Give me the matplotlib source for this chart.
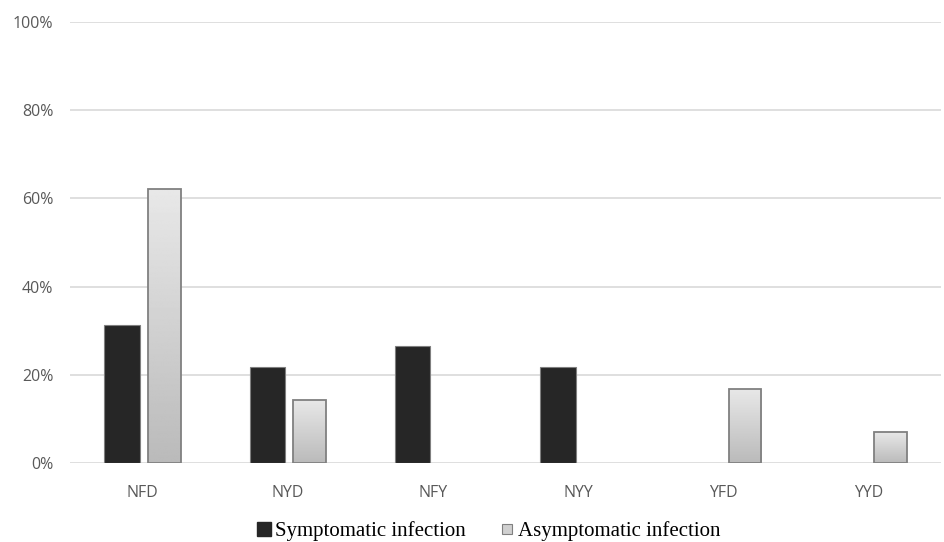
import numpy as np
import matplotlib.pyplot as plt
from matplotlib.lines import Line2D

categories = ['NFD', 'NYD', 'NFY', 'NYY', 'YFD', 'YYD']
symptomatic = [31.3, 21.8, 26.5, 21.8, 0, 0]
asymptomatic = [62.1, 14.3, 0, 0, 16.8, 7.0]
yticks = [0, 20, 40, 60, 80, 100]

fig = plt.figure(figsize=(9.44, 5.42), dpi=100)
ax = fig.add_axes([70 / 944, 1 - 463 / 542, 871 / 944, 441 / 542])

x = np.arange(len(categories))
w = 0.245
off = 0.15

for sp in ax.spines.values():
    sp.set_visible(False)
ax.set_yticks(yticks)
ax.set_yticklabels([f'{t}%' for t in yticks])
ax.yaxis.grid(True, color='#d9d9d9', linewidth=1.2)
ax.set_axisbelow(True)
ax.tick_params(axis='both', length=0, labelsize=11.5, labelcolor='#595959')
ax.tick_params(axis='y', pad=12)
ax.tick_params(axis='x', pad=16)
ax.set_xticks(x)
ax.set_xticklabels(categories)
for lab in ax.get_xticklabels() + ax.get_yticklabels():
    lab.set_family('Open Sans')

# symptomatic: solid dark bars
sym = [v if v > 0 else np.nan for v in symptomatic]
ax.bar(x - off + 0.01, sym, w, color='#262626', edgecolor='#7f7f7f', linewidth=0.8, zorder=3)

# asymptomatic: grey gradient bars
grad = np.linspace(0.73, 0.91, 256).reshape(-1, 1)
asy = [v if v > 0 else np.nan for v in asymptomatic]
bars = ax.bar(x + off, asy, w - 0.02, color='none', edgecolor='#808080', linewidth=1.3, zorder=4)
for b in bars:
    h = b.get_height()
    if not h > 0:
        continue
    x0 = b.get_x()
    im = ax.imshow(grad, cmap='gray', vmin=0, vmax=1, aspect='auto', origin='lower',
                   extent=[x0, x0 + b.get_width(), 0, h], zorder=3.5, interpolation='bilinear')
    im.set_clip_path(b)

ax.set_xlim(-0.5, len(categories) - 0.5)
ax.set_ylim(0, 100)

handles = [Line2D([], [], linestyle='none', marker='s', markersize=10.5,
                  markerfacecolor='#262626', markeredgecolor='#262626',
                  label='Symptomatic infection'),
           Line2D([], [], linestyle='none', marker='s', markersize=6.6,
                  markerfacecolor='#d0d0d0', markeredgecolor='#808080', markeredgewidth=0.8,
                  label='Asymptomatic infection')]
fig.legend(handles=handles, loc='center', bbox_to_anchor=(0.5 + 16 / 944, 1 - 531 / 542), ncol=2,
           frameon=False, prop={'family': 'Liberation Serif', 'size': 15},
           handlelength=0.75, handletextpad=0.15, columnspacing=1.6, borderpad=0)

fig.savefig('out.png', dpi=100)
